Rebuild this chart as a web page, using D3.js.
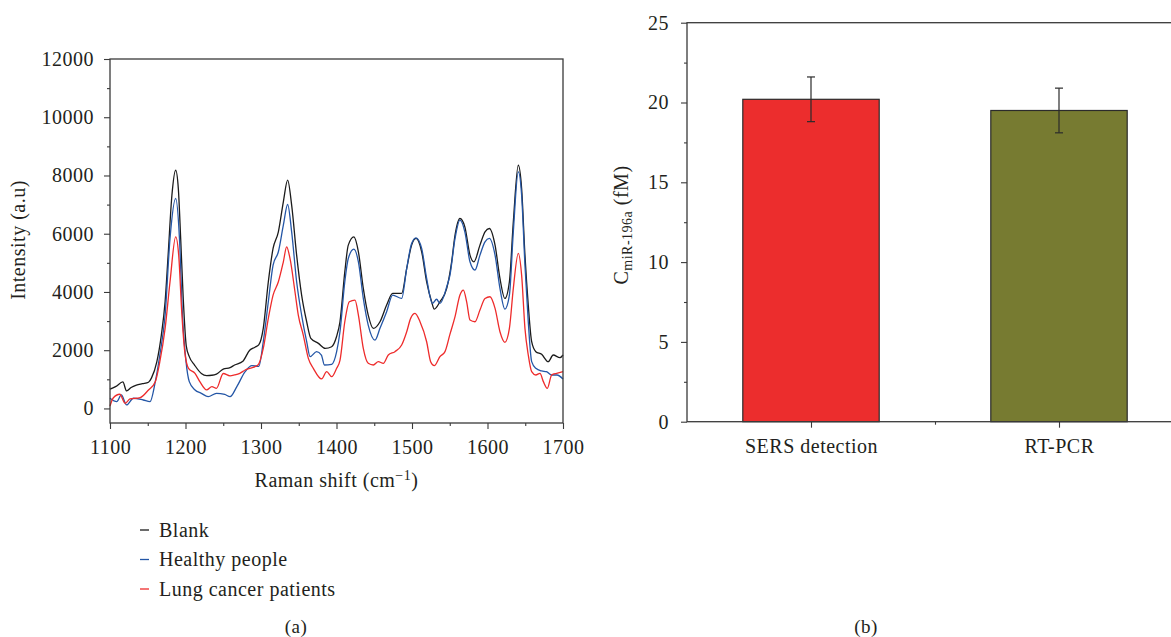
<!DOCTYPE html>
<html>
<head>
<meta charset="utf-8">
<script src="https://cdn.jsdelivr.net/npm/d3@7"></script>
<style>
  body { margin: 0; background: #fff; }
  svg { display: block; }
  text { font-family: "Liberation Serif", "Times New Roman", serif; fill: #231f20; letter-spacing: 0.5px; }
</style>
</head>
<body>
<div id="chart"></div>
<script>
// --- Data ---
const seriesNames = ["Blank", "Healthy people", "Lung cancer patients"];
const seriesColors = ["#1b1b1b", "#2456a6", "#ee2b2b"];

// [Raman shift (cm-1), intensity (a.u)]
const blankSpectrum = [
  [1100,660],[1108,760],[1117,910],[1122,600],[1128,720],[1135,800],[1143,850],[1151,900],[1155,1050],
  [1162,1600],[1168,2520],[1173,3670],[1177,5270],[1182,7320],[1187,8180],[1190.5,7550],[1193.6,5840],
  [1197,3780],[1201,2150],[1205,1780],[1212,1490],[1221,1200],[1228,1130],[1235,1140],[1241,1180],
  [1250,1350],[1259,1400],[1265,1490],[1276,1620],[1285,2000],[1292,2100],[1297,2180],[1303,2750],
  [1309.7,4350],[1316,5495],[1323,6065],[1329.6,7095],[1335.3,7838],[1340.6,6980],[1347.2,5265],
  [1353.8,3893],[1360.5,2977],[1366,2406],[1376,2235],[1385,2063],[1393.6,2120],[1400,2463],[1404.6,2977],
  [1411,4692],[1415.6,5608],[1423,5893],[1429,5380],[1435.5,4122],[1442,3207],[1448.8,2750],[1457.6,2977],
  [1466.4,3550],[1474.4,3950],[1486.3,3950],[1493,4809],[1499.5,5608],[1505.3,5837],[1512.8,5380],
  [1519.4,4350],[1526,3663],[1529.5,3413],[1537,3663],[1546,4122],[1552.5,5036],[1557,5951],[1563.5,6523],
  [1570,6236],[1576.8,5265],[1582,5036],[1590,5608],[1596.7,6065],[1602.4,6180],[1610,5608],[1616.5,4465],
  [1623,3778],[1629,4350],[1634.2,6408],[1640.8,8352],[1645.2,7552],[1649.6,5265],[1654,3550],[1658.5,2291],
  [1664,1950],[1671.7,1858],[1680.5,1606],[1687,1835],[1696,1743],[1700,1835]
];
const healthySpectrum = [
  [1100,350],[1109,233],[1115,463],[1122,120],[1131,350],[1144,290],[1153,233],[1160,920],[1166,1835],
  [1173,3207],[1179.5,5838],[1187,7210],[1192,5838],[1196,3207],[1200.7,1606],[1205,920],[1212.6,635],
  [1221,520],[1230,405],[1241,520],[1252,480],[1259,405],[1268,750],[1279,1263],[1288,1469],[1297,1445],
  [1303,2291],[1309.7,3663],[1316,4922],[1323,5380],[1329.6,6294],[1335.3,7003],[1340.6,6065],[1347.2,4350],
  [1353.8,3207],[1360.5,2291],[1365,1778],[1373.7,1950],[1380,1835],[1384,1492],[1393.6,1515],[1400.2,1950],
  [1404.6,2635],[1411,4350],[1415.6,5150],[1423,5470],[1429,5036],[1435.5,3778],[1442,2864],[1451,2349],
  [1457.6,2750],[1466.4,3320],[1474.4,3893],[1486.3,3778],[1493,4809],[1499.5,5665],[1505.3,5860],
  [1512.8,5495],[1519.4,4465],[1527,3607],[1532.6,3750],[1537,3607],[1546,4179],[1550.3,4580],[1557,5837],
  [1563.5,6465],[1570,6065],[1576.8,5036],[1583.4,4751],[1590,5265],[1596.7,5722],[1602.4,5837],[1610,5265],
  [1616.5,4122],[1623,3413],[1629,3893],[1634.2,6065],[1640.8,8123],[1645.2,7323],[1649.6,4922],[1654,2977],
  [1658.5,1606],[1664,1378],[1671.7,1286],[1678,1263],[1685,1149],[1692,1149],[1700,1012]
];
const cancerSpectrum = [
  [1100,80],[1104,350],[1113,487],[1120,178],[1126.5,326],[1140,372],[1151,635],[1160,920],[1166,1606],
  [1173,2750],[1179.5,4350],[1187,5895],[1191,5265],[1195,3320],[1199,1950],[1204,1378],[1212.6,1206],
  [1219,920],[1228,635],[1235,750],[1241,692],[1250,1200],[1259,1120],[1265,1149],[1272,1206],[1279,1320],
  [1285,1378],[1296,1492],[1303,2063],[1309.7,3093],[1316,3893],[1323,4350],[1329.6,5036],[1334,5550],
  [1338.4,5150],[1345,4007],[1349.4,3207],[1356,2520],[1362.7,1720],[1369.3,1378],[1380.3,1012],[1387,1263],
  [1393.6,1092],[1400.2,1378],[1404.6,1650],[1411,2977],[1417,3663],[1424.5,3722],[1429,3207],[1435.5,2063],
  [1442,1550],[1448.8,1492],[1455.4,1606],[1462,1550],[1468.6,1835],[1477.4,1950],[1486.3,2178],[1493,2635],
  [1498.2,3093],[1504,3265],[1510.6,2977],[1519.4,2291],[1524.7,1606],[1529.5,1469],[1537,1778],[1543.7,1950],
  [1550.3,2550],[1557,3150],[1563.5,3893],[1568,4065],[1572.4,3663],[1576.8,3036],[1583.4,2977],[1590,3378],
  [1596.7,3778],[1603.3,3835],[1610,3435],[1616.5,2635],[1623,2270],[1629,2750],[1634.2,4122],[1640.8,5323],
  [1645.2,4580],[1649.6,2750],[1654,1835],[1658.5,1263],[1664,1149],[1669.5,1206],[1674,920],[1679.2,692],
  [1685,1149],[1691.6,1206],[1700,1263]
];
const spectra = [blankSpectrum, healthySpectrum, cancerSpectrum];

const xTicksA = [1100, 1200, 1300, 1400, 1500, 1600, 1700];
const yTicksA = [0, 2000, 4000, 6000, 8000, 10000, 12000];

// panel (b)
const methods = ["SERS detection", "RT-PCR"];
const concentrations = [20.2, 19.5];
const concErrors = [1.4, 1.4];
const barColors = ["#ec2d2d", "#777b31"];
const yTicksB = [0, 5, 10, 15, 20, 25];

// --- Setup ---
const width = 1171, height = 637;
const axisColor = "#3a3a3a";
const fontSize = 20;

const svg = d3.select("#chart").append("svg")
  .attr("width", width)
  .attr("height", height);

function styleAxis(g) {
  g.selectAll(".domain").remove();
  g.selectAll(".tick line").attr("stroke", axisColor).attr("stroke-width", 1.1);
  g.selectAll(".tick text").attr("font-size", fontSize).attr("fill", "#231f20")
    .attr("font-family", "Liberation Serif, serif");
}

// ===== Panel (a): Raman spectra =====
const xA = d3.scaleLinear().domain([1100, 1700]).range([110, 563]);
const yA = d3.scaleLinear().domain([-500, 12000]).range([423, 59]);

// minor ticks
svg.append("g").attr("transform", `translate(0,${yA.range()[0]})`)
  .call(d3.axisBottom(xA).tickValues(d3.range(1150, 1700, 100)).tickSize(3).tickFormat(""))
  .call(styleAxis);
svg.append("g").attr("transform", `translate(${xA.range()[0]},0)`)
  .call(d3.axisLeft(yA).tickValues(d3.range(1000, 12000, 2000)).tickSize(3).tickFormat(""))
  .call(styleAxis);

// major ticks
svg.append("g").attr("transform", `translate(0,${yA.range()[0]})`)
  .call(d3.axisBottom(xA).tickValues(xTicksA).tickSize(6).tickPadding(11).tickFormat(d3.format("d")))
  .call(styleAxis);
svg.append("g").attr("transform", `translate(${xA.range()[0]},0)`)
  .call(d3.axisLeft(yA).tickValues(yTicksA).tickSize(6).tickPadding(10).tickFormat(d3.format("d")))
  .call(styleAxis);

// spectra
const line = d3.line()
  .x(d => xA(d[0]))
  .y(d => yA(d[1]))
  .curve(d3.curveMonotoneX);

svg.append("g")
  .selectAll("path")
  .data(spectra)
  .join("path")
  .attr("d", line)
  .attr("fill", "none")
  .attr("stroke", (d, i) => seriesColors[i])
  .attr("stroke-width", 1.3)
  .attr("stroke-linejoin", "round");

// frame
svg.append("rect")
  .attr("x", xA.range()[0]).attr("y", yA.range()[1])
  .attr("width", xA.range()[1] - xA.range()[0])
  .attr("height", yA.range()[0] - yA.range()[1])
  .attr("fill", "none").attr("stroke", axisColor).attr("stroke-width", 1.3);

// axis titles
const xTitle = svg.append("text")
  .attr("x", (xA.range()[0] + xA.range()[1]) / 2)
  .attr("y", 487)
  .attr("text-anchor", "middle")
  .attr("font-size", fontSize);
xTitle.append("tspan").text("Raman shift (cm");
xTitle.append("tspan").attr("font-size", 14).attr("dy", -7).text("\u22121");
xTitle.append("tspan").attr("dy", 7).text(")");

svg.append("text")
  .attr("transform", `translate(25,240) rotate(-90)`)
  .attr("text-anchor", "middle")
  .attr("font-size", fontSize)
  .text("Intensity (a.u)");

// legend
const legend = svg.append("g").attr("transform", "translate(140,530)");
const legendRows = legend.selectAll("g")
  .data(seriesNames)
  .join("g")
  .attr("transform", (d, i) => `translate(0,${i * 29.5})`);
legendRows.append("line")
  .attr("x1", 0).attr("x2", 9)
  .attr("stroke", (d, i) => seriesColors[i])
  .attr("stroke-width", 1.3);
legendRows.append("text")
  .attr("x", 19).attr("dy", "0.33em")
  .attr("font-size", fontSize)
  .text(d => d);

svg.append("text")
  .attr("x", 296).attr("y", 633)
  .attr("text-anchor", "middle")
  .attr("font-size", 19)
  .text("(a)");

// ===== Panel (b): bar chart =====
const xB = d3.scaleLinear().domain([0.5, 2.5]).range([687, 1183]);
const yB = d3.scaleLinear().domain([0, 25]).range([421.7, 22.7]);
const barWidth = 0.55;

svg.append("g").attr("transform", `translate(0,${yB.range()[0]})`)
  .call(d3.axisBottom(xB).tickValues([1.5]).tickSize(3).tickFormat(""))
  .call(styleAxis);
svg.append("g").attr("transform", `translate(${xB.range()[0]},0)`)
  .call(d3.axisLeft(yB).tickValues(d3.range(2.5, 25, 5)).tickSize(3).tickFormat(""))
  .call(styleAxis);
svg.append("g").attr("transform", `translate(0,${yB.range()[0]})`)
  .call(d3.axisBottom(xB).tickValues([1, 2]).tickSize(6).tickPadding(11).tickFormat(d => methods[d - 1]))
  .call(styleAxis);
svg.append("g").attr("transform", `translate(${xB.range()[0]},0)`)
  .call(d3.axisLeft(yB).tickValues(yTicksB).tickSize(6).tickPadding(12))
  .call(styleAxis);

// bars
svg.append("g")
  .selectAll("rect")
  .data(concentrations)
  .join("rect")
  .attr("x", (d, i) => xB(i + 1 - barWidth / 2))
  .attr("width", xB(1 + barWidth / 2) - xB(1 - barWidth / 2))
  .attr("y", d => yB(d))
  .attr("height", d => yB(0) - yB(d))
  .attr("fill", (d, i) => barColors[i])
  .attr("stroke", "#2b2b2b")
  .attr("stroke-width", 1.2);

// error bars
const errs = svg.append("g").attr("stroke", "#2b2b2b").attr("stroke-width", 1.2);
concentrations.forEach((v, i) => {
  const cx = xB(i + 1);
  const e = concErrors[i];
  errs.append("line").attr("x1", cx).attr("x2", cx).attr("y1", yB(v + e)).attr("y2", yB(v - e));
  errs.append("line").attr("x1", cx - 4).attr("x2", cx + 4).attr("y1", yB(v + e)).attr("y2", yB(v + e));
  errs.append("line").attr("x1", cx - 4).attr("x2", cx + 4).attr("y1", yB(v - e)).attr("y2", yB(v - e));
});

// frame
svg.append("rect")
  .attr("x", xB.range()[0]).attr("y", yB.range()[1])
  .attr("width", xB.range()[1] - xB.range()[0])
  .attr("height", yB.range()[0] - yB.range()[1])
  .attr("fill", "none").attr("stroke", axisColor).attr("stroke-width", 1.3);

// y title with subscript
const yTitleB = svg.append("text")
  .attr("transform", `translate(628,225) rotate(-90)`)
  .attr("text-anchor", "middle")
  .attr("font-size", fontSize);
yTitleB.append("tspan").text("C");
yTitleB.append("tspan").attr("font-size", 14).attr("dy", 4).text("miR-196a");
yTitleB.append("tspan").attr("dy", -4).text(" (fM)");

svg.append("text")
  .attr("x", 866).attr("y", 633)
  .attr("text-anchor", "middle")
  .attr("font-size", 19)
  .text("(b)");
</script>
</body>
</html>
